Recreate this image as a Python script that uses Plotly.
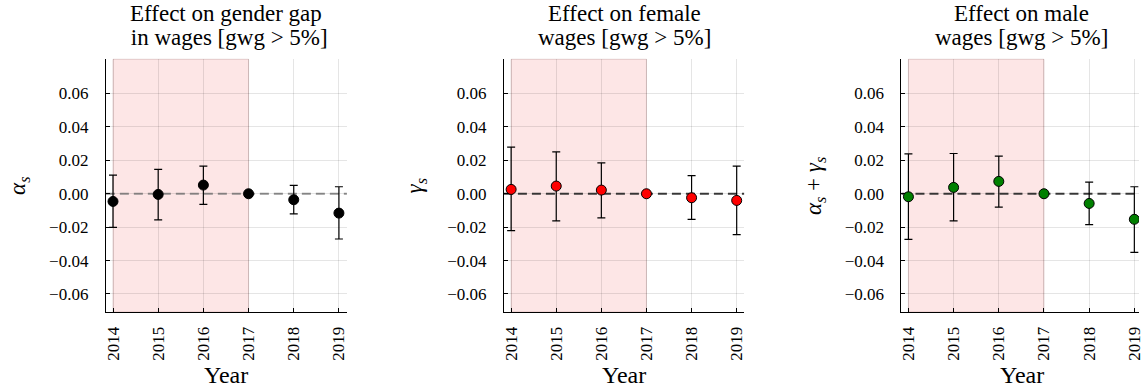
import plotly.graph_objects as go

years = [2014, 2015, 2016, 2017, 2018, 2019]

alpha = [-0.0046, -0.0004, 0.0052, 0.0, -0.0036, -0.0116]
alpha_hi = [0.0112, 0.0146, 0.0165, 0.0, 0.0050, 0.0042]
alpha_lo = [-0.0201, -0.0157, -0.0064, 0.0, -0.0120, -0.0271]

gamma = [0.0026, 0.0046, 0.0022, 0.0, -0.0024, -0.0040]
gamma_hi = [0.0279, 0.0251, 0.0185, 0.0, 0.0108, 0.0165]
gamma_lo = [-0.0221, -0.0163, -0.0144, 0.0, -0.0153, -0.0245]

male = [-0.0018, 0.0038, 0.0074, 0.0, -0.0058, -0.0153]
male_hi = [0.0239, 0.0241, 0.0225, 0.0, 0.0070, 0.0042]
male_lo = [-0.0273, -0.0163, -0.0080, 0.0, -0.0185, -0.0351]

ytick_vals = [-0.06, -0.04, -0.02, 0.0, 0.02, 0.04, 0.06]

title_lines = [("Effect on gender gap", " in wages [gwg > 5%]"),
               ("Effect on female", "wages [gwg > 5%]"),
               ("Effect on male", "wages [gwg > 5%]")]
ylabels = ["<i>α<sub>s</sub></i>", "<i>γ<sub>s</sub></i>",
           "<i>α<sub>s</sub></i> + <i>γ<sub>s</sub></i>"]
colors = ["black", "red", "#008000"]
zero_colors = ["rgba(120,120,120,0.8)", "rgba(40,40,40,0.9)", "rgba(40,40,40,0.9)"]
shade_start, shade_end = 2014, 2017

W, H = 1144, 389
FONT = "Liberation Serif"

# pixel layout
panels_px = [(104.5, 347.0), (505.0, 746.7), (905.0, 1144.0)]
xranges = [[2013.842, 2019.176], [2013.84, 2019.165], [2013.846, 2019.103]]
title_cx = [225.7, 626.0, 1026.0]
ylab_x = [17, 417, 818]
top_px, bot_px = 59.3, 312.0
yrange = [-0.0708, 0.0805]

series = [(alpha, alpha_hi, alpha_lo), (gamma, gamma_hi, gamma_lo), (male, male_hi, male_lo)]

fig = go.Figure()
layout = dict(
    width=W, height=H, autosize=False,
    margin=dict(l=0, r=0, t=0, b=0),
    paper_bgcolor="white", plot_bgcolor="white",
    showlegend=False,
    font=dict(family=FONT, size=17, color="black"),
)

annotations = []
shapes = []
for i, (vals, hi, lo) in enumerate(series):
    xa = "xaxis" if i == 0 else f"xaxis{i+1}"
    ya = "yaxis" if i == 0 else f"yaxis{i+1}"
    xr = "x" if i == 0 else f"x{i+1}"
    yr = "y" if i == 0 else f"y{i+1}"
    err_plus = [h - v for h, v in zip(hi, vals)]
    err_minus = [v - l for l, v in zip(lo, vals)]
    layout[xa] = dict(
        domain=[panels_px[i][0] / W, panels_px[i][1] / W],
        anchor=yr, range=xranges[i],
        tickmode="array", tickvals=years, ticktext=[str(y) for y in years],
        tickangle=-90, ticks="inside", ticklen=4, tickcolor="black",
        showline=True, linecolor="black", linewidth=1,
        showgrid=True, gridcolor="rgba(0,0,0,0.1)", gridwidth=1,
        zeroline=False, tickfont=dict(family=FONT, size=17),
        ticklabelstandoff=7, ticklabeloverflow="allow",
    )
    layout[ya] = dict(
        domain=[1 - bot_px / H, 1 - top_px / H],
        anchor=xr, range=yrange,
        tickmode="array", tickvals=ytick_vals, tickformat=".2f",
        ticks="inside", ticklen=4, tickcolor="black",
        showline=True, linecolor="black", linewidth=1,
        showgrid=True, gridcolor="rgba(0,0,0,0.1)", gridwidth=1,
        zeroline=False, tickfont=dict(family=FONT, size=17),
        ticklabelstandoff=13,
    )
    shapes.append(dict(type="rect", xref=xr, yref=f"{yr} domain",
                       x0=shade_start, x1=shade_end, y0=0, y1=1,
                       fillcolor="rgba(240,80,80,0.14)",
                       line=dict(color="rgba(150,90,90,0.25)", width=1),
                       layer="below"))
    shapes.append(dict(type="line", xref=f"{xr} domain", yref=yr,
                       x0=0, x1=1, y0=0, y1=0,
                       line=dict(color=zero_colors[i], width=1.8, dash="9px,5px"),
                       layer="below"))
    fig.add_trace(go.Scatter(
        x=years, y=vals, mode="markers", xaxis=xr, yaxis=yr,
        marker=dict(color=colors[i], size=10, line=dict(color="black", width=1)),
        error_y=dict(type="data", symmetric=False, array=err_plus, arrayminus=err_minus,
                     color="black", thickness=1.2, width=4),
        cliponaxis=True,
    ))
    for k, (line_text, cy) in enumerate(zip(title_lines[i], (13.5, 37.5))):
        annotations.append(dict(text=line_text, xref="paper", yref="paper",
                                x=title_cx[i] / W, y=1 - cy / H, xanchor="center", yanchor="middle",
                                showarrow=False, font=dict(family=FONT, size=23)))
    annotations.append(dict(text=ylabels[i], xref="paper", yref="paper",
                            x=ylab_x[i] / W, y=1 - 186 / H, xanchor="center", yanchor="middle",
                            textangle=-90, showarrow=False, font=dict(family=FONT, size=23)))
    annotations.append(dict(text="Year", xref="paper", yref="paper",
                            x=title_cx[i] / W, y=1 - 375 / H, xanchor="center", yanchor="middle",
                            showarrow=False, font=dict(family=FONT, size=24)))

layout["annotations"] = annotations
layout["shapes"] = shapes
fig.update_layout(**layout)
fig.write_html("out.html")
